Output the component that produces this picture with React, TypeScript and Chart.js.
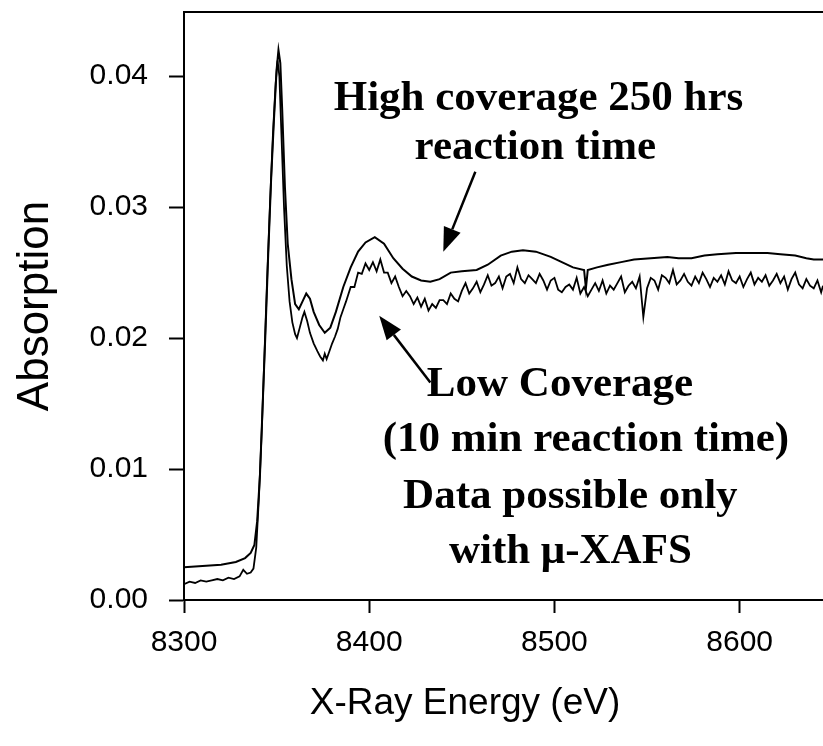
import React, { useEffect, useRef } from "react";
import { Chart, registerables } from "chart.js";

Chart.register(...registerables);

// ---- data ----
const highEnergy = [
  8300, 8310, 8320, 8328, 8333, 8336, 8338, 8339.5, 8341, 8342.5, 8344, 8345.5, 8347, 8348.5, 8350, 8351, 8352, 8353,
  8354.5, 8356, 8358, 8360, 8362, 8364, 8366, 8368, 8370, 8373, 8376, 8379, 8382, 8386, 8390, 8394, 8398, 8403, 8408,
  8413, 8418, 8423, 8428, 8433, 8438, 8444, 8450, 8458, 8464, 8471, 8477, 8483, 8490, 8498, 8504, 8510, 8516, 8517,
  8518, 8523, 8529, 8536, 8543, 8552, 8561, 8567, 8574, 8581, 8588, 8598, 8608, 8615, 8622, 8630, 8636, 8640, 8645,
];
const highAbsorption = [
  0.0025, 0.0026, 0.0027, 0.0029, 0.0032, 0.0036, 0.0042, 0.006, 0.0095, 0.015, 0.0205, 0.0265, 0.032, 0.0365, 0.0405,
  0.042, 0.041, 0.0375, 0.0315, 0.0272, 0.0245, 0.0226, 0.0222, 0.0228, 0.0234, 0.023, 0.022, 0.021, 0.0204, 0.0208,
  0.022, 0.0239, 0.0254, 0.0266, 0.0273, 0.0277, 0.0272, 0.0261, 0.0253, 0.0247, 0.0244, 0.0243, 0.0245, 0.025, 0.0251,
  0.0252, 0.0256, 0.0263, 0.0266, 0.0267, 0.0266, 0.0262, 0.0258, 0.0254, 0.0252, 0.0238, 0.0252, 0.0254, 0.0256,
  0.0258, 0.026, 0.0261, 0.0262, 0.0261, 0.0261, 0.0263, 0.0264, 0.0265, 0.0265, 0.0265, 0.0264, 0.0263, 0.0261, 0.026,
  0.026,
];

const lowEnergy = [
  8300, 8303, 8306, 8309, 8312, 8315, 8318, 8321, 8324, 8327, 8330, 8332, 8334, 8336, 8337.5, 8339, 8340.5, 8342, 8343.5,
  8345, 8346.5, 8348, 8349.5, 8350.5, 8351.5, 8352.5, 8354, 8355.5, 8357, 8358.5, 8360, 8361, 8362.5, 8364, 8365, 8366.5,
  8368, 8370, 8372, 8373.5, 8375, 8376, 8377, 8378.5, 8380, 8381.5, 8383, 8384.5, 8386, 8387.5,
  8390, 8392, 8394, 8396, 8398, 8400, 8402, 8404, 8406, 8408, 8410, 8412, 8414, 8416, 8418, 8420, 8422, 8424, 8426, 8428,
  8430, 8432, 8434, 8436, 8438, 8440, 8442, 8444, 8446, 8448, 8450, 8452, 8454, 8456, 8458, 8460, 8462, 8464, 8466, 8468,
  8470, 8472, 8474, 8476, 8478, 8480, 8482, 8484, 8486, 8488, 8490, 8492, 8494, 8496, 8498, 8500, 8502, 8504, 8506, 8508,
  8510, 8512, 8514, 8516, 8518, 8520, 8522, 8524, 8526, 8528, 8530, 8532, 8534, 8536, 8538, 8540, 8542, 8544, 8546, 8548,
  8550, 8552, 8554, 8556, 8558, 8560, 8562, 8564, 8566, 8568, 8570, 8572, 8574, 8576, 8578, 8580, 8582, 8584, 8586, 8588,
  8590, 8592, 8594, 8596, 8598, 8600, 8602, 8604, 8606, 8608, 8610, 8612, 8614, 8616, 8618, 8620, 8622, 8624, 8626, 8628,
  8630, 8632, 8634, 8636, 8638, 8640, 8642, 8644, 8645,
];
const lowAbsorption = [
  0.0012, 0.0014, 0.0013, 0.0015, 0.0014, 0.0015, 0.0016, 0.0015, 0.0017, 0.0016, 0.0018, 0.0023, 0.002, 0.0021, 0.0024,
  0.004, 0.008, 0.013, 0.019, 0.025, 0.0305, 0.0355, 0.0395, 0.0412, 0.04, 0.036, 0.03, 0.0255, 0.0228, 0.0212, 0.0203,
  0.02, 0.0208, 0.0216, 0.022, 0.0213, 0.0204, 0.0196, 0.019, 0.0186, 0.0183, 0.0188, 0.0184, 0.019, 0.0196, 0.0201,
  0.0207, 0.0216, 0.0222, 0.0228,
  0.0239, 0.0239, 0.025, 0.0249, 0.0257, 0.0252, 0.0258, 0.0251, 0.026, 0.025, 0.025, 0.0242, 0.0247, 0.0239, 0.0232,
  0.0236, 0.0232, 0.0226, 0.0231, 0.0224, 0.023, 0.0221, 0.0226, 0.0223, 0.0229,
  0.0229, 0.0226, 0.0234, 0.023, 0.0228, 0.0236, 0.0242, 0.0234, 0.0238, 0.0243, 0.0235, 0.0241, 0.0248, 0.024, 0.0242,
  0.0247, 0.0238, 0.0247, 0.0249, 0.0242, 0.0254, 0.0245, 0.0242, 0.0248, 0.0245, 0.0242, 0.0249, 0.0244, 0.0237, 0.0244,
  0.0246, 0.0237, 0.0235, 0.0239, 0.0241, 0.0237, 0.0246, 0.0234, 0.0239, 0.0232, 0.0237, 0.0242, 0.0236, 0.0244, 0.0234,
  0.024, 0.0237, 0.0242, 0.0247, 0.0235, 0.024, 0.0243, 0.0238, 0.0247, 0.0216, 0.0238, 0.0246, 0.0244, 0.0237, 0.0248,
  0.0246, 0.0242, 0.0252, 0.0241, 0.0244, 0.0249, 0.0243, 0.024, 0.0247, 0.0242, 0.025, 0.0245, 0.0239, 0.0246, 0.0243,
  0.0248, 0.0241, 0.0251, 0.0244, 0.0242, 0.0247, 0.0239, 0.0245, 0.025, 0.0241, 0.0246, 0.0243, 0.0248, 0.024, 0.0244,
  0.0249, 0.0242, 0.0247, 0.0237, 0.0245, 0.025, 0.0241, 0.0238, 0.0245, 0.024, 0.0238, 0.0244, 0.0235, 0.024,
];

const xTickValues = [8300, 8400, 8500, 8600];
const yTickValues = [0, 0.01, 0.02, 0.03, 0.04];

const highLabel = ["High coverage 250 hrs", "reaction time"];
const lowLabel = ["Low Coverage", "(10 min reaction time)", "Data possible only", "with \u03bc-XAFS"];
const xTitle = "X-Ray Energy (eV)";
const yTitle = "Absorption";

const X_MIN = 8300;
const X_MAX = 8645;
const Y_MIN = 0;
const Y_MAX = 0.0449;

const toPoints = (xs: number[], ys: number[]) => xs.map((x, i) => ({ x, y: ys[i] }));

const annotationPlugin = {
  id: "annotations",
  afterDraw(chart: any) {
    const { ctx, chartArea, scales } = chart;
    const xs = scales.x;
    const ys = scales.y;
    ctx.save();
    // top border
    ctx.strokeStyle = "#000";
    ctx.lineWidth = 2;
    ctx.beginPath();
    ctx.moveTo(chartArea.left - 1, chartArea.top);
    ctx.lineTo(chartArea.right, chartArea.top);
    ctx.stroke();

    // x-axis title (offset left of centre as in the original)
    ctx.fillStyle = "#000";
    ctx.font = "37px 'Liberation Sans', Arial, sans-serif";
    ctx.textAlign = "center";
    ctx.textBaseline = "middle";
    ctx.fillText(xTitle, chartArea.left + 281, chartArea.bottom + 104);

    // texts
    ctx.font = "bold 43px 'Liberation Serif', 'Times New Roman', serif";
    const highPos = [
      [8491.4, 0.0383],
      [8489.7, 0.0345],
    ];
    highLabel.forEach((t, i) => {
      ctx.fillText(t, xs.getPixelForValue(highPos[i][0]), ys.getPixelForValue(highPos[i][1]));
    });
    const lowPos = [
      [8503, 0.0164],
      [8517, 0.0122],
      [8508.6, 0.0079],
      [8508.6, 0.0037],
    ];
    lowLabel.forEach((t, i) => {
      ctx.fillText(t, xs.getPixelForValue(lowPos[i][0]), ys.getPixelForValue(lowPos[i][1]));
    });

    // arrows
    const arrow = (x0: number, y0: number, x1: number, y1: number) => {
      const px0 = xs.getPixelForValue(x0);
      const py0 = ys.getPixelForValue(y0);
      const px1 = xs.getPixelForValue(x1);
      const py1 = ys.getPixelForValue(y1);
      const ang = Math.atan2(py1 - py0, px1 - px0);
      const headLen = 24;
      const headHalf = 9;
      const bx = px1 - headLen * Math.cos(ang);
      const by = py1 - headLen * Math.sin(ang);
      ctx.lineWidth = 2.5;
      ctx.beginPath();
      ctx.moveTo(px0, py0);
      ctx.lineTo(bx, by);
      ctx.stroke();
      ctx.beginPath();
      ctx.moveTo(px1, py1);
      ctx.lineTo(bx + headHalf * Math.sin(ang), by - headHalf * Math.cos(ang));
      ctx.lineTo(bx - headHalf * Math.sin(ang), by + headHalf * Math.cos(ang));
      ctx.closePath();
      ctx.fill();
    };
    arrow(8457.3, 0.0327, 8440, 0.0266);
    arrow(8433, 0.0166, 8405.4, 0.0217);
    ctx.restore();
  },
};

const zeroPadding = (scale: any) => {
  scale.paddingTop = 0;
  scale.paddingBottom = 0;
  scale.paddingLeft = 0;
  scale.paddingRight = 0;
};

export default function App() {
  const canvasRef = useRef<HTMLCanvasElement | null>(null);

  useEffect(() => {
    document.body.style.margin = "0";
    const canvas = canvasRef.current;
    if (!canvas) return;
    const tickFont = { family: "'Liberation Sans', Arial, sans-serif", size: 30 };
    const chart = new Chart(canvas, {
      type: "line",
      data: {
        datasets: [
          {
            label: "High coverage",
            data: toPoints(highEnergy, highAbsorption),
            borderColor: "#000",
            borderWidth: 2,
            pointRadius: 0,
            tension: 0,
            fill: false,
          },
          {
            label: "Low coverage",
            data: toPoints(lowEnergy, lowAbsorption),
            borderColor: "#000",
            borderWidth: 1.8,
            pointRadius: 0,
            tension: 0,
            fill: false,
          },
        ],
      },
      options: {
        responsive: false,
        animation: false,
        layout: { padding: { top: 12, right: 0, left: 0, bottom: 0 } },
        plugins: { legend: { display: false }, tooltip: { enabled: false } },
        scales: {
          x: {
            type: "linear",
            min: X_MIN,
            max: X_MAX,
            afterBuildTicks: (scale: any) => {
              scale.ticks = xTickValues.map((v) => ({ value: v }));
            },
            afterFit: (scale: any) => {
              scale.height = 146;
              zeroPadding(scale);
            },
            ticks: {
              color: "#000",
              font: tickFont,
              padding: 12,
              maxRotation: 0,
              callback: (v: any) => String(v),
            },
            grid: {
              drawOnChartArea: false,
              drawTicks: true,
              tickLength: 13,
              tickWidth: 2,
              color: "#000",
            },
            border: { display: true, color: "#000", width: 2 },
            title: { display: false },
          },
          y: {
            type: "linear",
            min: Y_MIN,
            max: Y_MAX,
            afterBuildTicks: (scale: any) => {
              scale.ticks = yTickValues.map((v) => ({ value: v }));
            },
            afterFit: (scale: any) => {
              scale.width = 184;
              zeroPadding(scale);
            },
            ticks: {
              color: "#000",
              font: tickFont,
              padding: 21,
              callback: (v: any) => Number(v).toFixed(2),
            },
            grid: {
              drawOnChartArea: false,
              drawTicks: true,
              tickLength: 15,
              tickWidth: 2,
              color: "#000",
            },
            border: { display: true, color: "#000", width: 2 },
            title: {
              display: true,
              text: yTitle,
              color: "#000",
              font: { family: "'Liberation Sans', Arial, sans-serif", size: 44 },
              padding: { top: 9, bottom: 0 },
            },
          },
        },
      },
      plugins: [annotationPlugin],
    });
    return () => chart.destroy();
  }, []);

  return (
    <div style={{ position: "fixed", left: 0, top: 0, width: 823, height: 746, background: "#fff" }}>
      <canvas ref={canvasRef} width={823} height={746} />
    </div>
  );
}
